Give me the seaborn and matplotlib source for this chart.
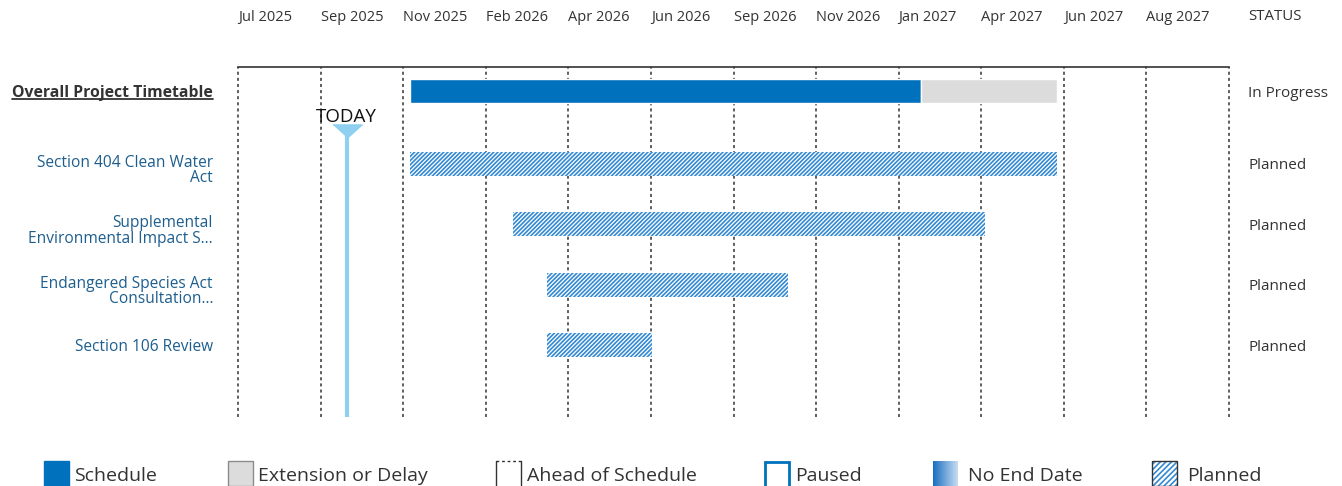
import numpy as np
import pandas as pd
import matplotlib
matplotlib.use("Agg")
import matplotlib.pyplot as plt
import matplotlib.dates as mdates
from matplotlib.patches import Rectangle
from matplotlib.lines import Line2D
from matplotlib.colors import LinearSegmentedColormap
from matplotlib.transforms import offset_copy, IdentityTransform
import seaborn as sns

# ---- data ----
tasks = ["Overall Project Timetable",
         "Section 404 Clean Water\nAct",
         "Supplemental\nEnvironmental Impact S...",
         "Endangered Species Act\nConsultation...",
         "Section 106 Review"]
starts = ["2025-12-05", "2025-12-05", "2026-03-02", "2026-03-31", "2026-03-31"]
ends = ["2027-02-11", "2027-06-06", "2027-04-06", "2026-10-21", "2026-06-28"]
kinds = ["schedule", "planned", "planned", "planned", "planned"]
statuses = ["In Progress", "Planned", "Planned", "Planned", "Planned"]
extension_end = "2027-06-06"   # grey part of the overall bar
today = "2025-10-12"
axis_start = "2025-07-12"
axis_step_days = 70
n_ticks = 13
legend_labels = ["Schedule", "Extension or Delay", "Ahead of Schedule",
                 "Paused", "No End Date", "Planned"]

BLUE = "#0071bc"
GREY = "#dcdcdc"
HATCH = "#3389d2"
NAVY = "#1d5e8e"
TEXT = "#333333"
SKY = "#8fd0f1"

sns.set_theme(style="white")
plt.rcParams["font.family"] = ["Open Sans", "DejaVu Sans"]
plt.rcParams["hatch.linewidth"] = 1.2

W, H = 1342, 486
fig = plt.figure(figsize=(W / 100, H / 100), dpi=100)
ax = fig.add_axes([238 / W, 69 / H, 991 / W, 350 / H])

start_d = mdates.date2num(pd.to_datetime(starts))
end_d = mdates.date2num(pd.to_datetime(ends))
ext_d = mdates.date2num(pd.Timestamp(extension_end))
today_d = mdates.date2num(pd.Timestamp(today))

idx = np.arange(len(tasks))
row_y = idx + np.where(idx > 0, 0.2, 0.0)
bar_h = 0.4

sched = np.array(kinds) == "schedule"
ax.barh(row_y[sched], end_d[sched] - start_d[sched], left=start_d[sched],
        height=bar_h, color=BLUE, zorder=3)
ax.barh(row_y[sched], ext_d - end_d[sched], left=end_d[sched],
        height=bar_h, color=GREY, zorder=3)
ax.barh(row_y[~sched], end_d[~sched] - start_d[~sched], left=start_d[~sched],
        height=bar_h, facecolor="white", edgecolor=HATCH, linewidth=0,
        hatch="////////", zorder=3)

# axis
ticks = pd.date_range(axis_start, periods=n_ticks, freq=f"{axis_step_days}D")
tick_num = mdates.date2num(ticks)
ax.set_xlim(tick_num[0], tick_num[-1])
ax.set_ylim(row_y[-1] + 1.19, -0.4)
ax.set_xticks(tick_num)
ax.set_xticklabels([t.strftime("%b %Y") for t in ticks[:-1]] + [""])
ax.xaxis.tick_top()
ax.tick_params(axis="x", length=0, pad=30.3, labelsize=10.5, labelcolor=TEXT)
for lbl in ax.get_xticklabels():
    lbl.set_ha("left")
ax.set_yticks([])
ax.grid(axis="x", color=TEXT, linestyle=(0, (2, 2)), linewidth=1.1)
ax.set_axisbelow(True)
for gl in ax.get_xgridlines():
    gl.set_clip_on(False)
for side in ["left", "right", "bottom"]:
    ax.spines[side].set_visible(False)
ax.spines["top"].set_color(TEXT)
ax.spines["top"].set_linewidth(1.2)

# today marker
ax.axvline(today_d, ymin=0, ymax=0.82, color=SKY, linewidth=3, zorder=4)
ax.plot([today_d], [0.816], transform=ax.get_xaxis_transform(),
        marker=[(-1, 0.45), (1, 0.45), (0, -0.45)], markersize=21,
        color=SKY, clip_on=False, zorder=4)
ax.text(today_d, 0.857, "TODAY", transform=ax.get_xaxis_transform(),
        ha="center", va="center", fontsize=13.5, color="#111111")

# row labels and statuses
ytrans = ax.get_yaxis_transform()
title_txt = None
for i, (y, name, st) in enumerate(zip(row_y, tasks, statuses)):
    multi = "\n" in name
    tr = offset_copy(ytrans, fig=fig, x=-25, y=-7 if multi else -2, units="dots")
    t = ax.text(0, y, name, transform=tr, ha="right", va="center",
                fontsize=11.3 if i == 0 else 11.2, linespacing=0.95,
                color=TEXT if i == 0 else NAVY,
                fontweight="bold" if i == 0 else "normal")
    if i == 0:
        title_txt = t
    tr2 = offset_copy(ytrans, fig=fig, x=19, y=-2, units="dots")
    ax.text(1, y, st, transform=tr2, ha="left", va="center",
            fontsize=11, color=TEXT)

fig.text(1248 / W, 1 - 16 / H, "STATUS", ha="left", va="center",
         fontsize=10.8, color=TEXT)

fig.canvas.draw()
bb = title_txt.get_window_extent()
fig.add_artist(Line2D([bb.x0, bb.x1], [bb.y0 + 2.5, bb.y0 + 2.5],
                      transform=IdentityTransform(), color=TEXT, linewidth=1.3))

# legend along the bottom
lax = fig.add_axes([0, 0, 1, 1])
lax.patch.set_alpha(0)
lax.axis("off")
box_x = [44, 228, 496, 765, 933, 1152]
text_x = [74, 258, 527, 795, 968, 1187]
top, size = 461, 25
lax.add_patch(Rectangle((box_x[0], top), size, size, facecolor=BLUE, edgecolor=BLUE))
lax.add_patch(Rectangle((box_x[1], top), size, size, facecolor=GREY,
                        edgecolor="#8c8c8c", linewidth=1))
x0 = box_x[2]
lax.plot([x0, x0], [top, H], color=TEXT, linewidth=1)
lax.plot([x0 + size, x0 + size], [top, H], color=TEXT, linewidth=1)
lax.plot([x0, x0 + size], [top, top], color=TEXT, linewidth=1, linestyle=(0, (2, 2)))
lax.add_patch(Rectangle((box_x[3], top + 1), size - 1, size, facecolor="white",
                        edgecolor=BLUE, linewidth=2))
grad = LinearSegmentedColormap.from_list("noend", ["#1a6fc0", "#c8dcf2"])
lax.imshow(np.linspace(0, 1, 64)[None, :], cmap=grad, aspect="auto",
           extent=[box_x[4], box_x[4] + size, H, top])
lax.add_patch(Rectangle((box_x[5], top), size, size, facecolor="white",
                        edgecolor=HATCH, linewidth=0, hatch="//////"))
lax.add_patch(Rectangle((box_x[5], top), size, size, facecolor="none",
                        edgecolor=TEXT, linewidth=1))
for tx, lab in zip(text_x, legend_labels):
    lax.text(tx, 476, lab, ha="left", va="center", fontsize=14, color=TEXT)
lax.set_xlim(0, W)
lax.set_ylim(H, 0)

fig.savefig("out.png", dpi=100)
